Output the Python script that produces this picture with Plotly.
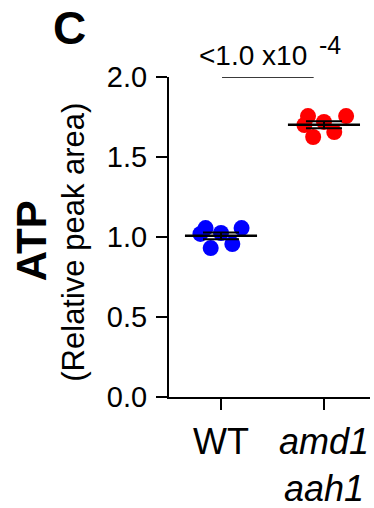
import numpy as np
import plotly.graph_objects as go

# ---- data ----
categories = ["WT", "amd1 aah1"]
tick_labels = ["WT", "<i>amd1</i><br><i>aah1</i>"]
wt_values = [1.019, 1.056, 0.931, 1.025, 0.956, 1.056]
mut_values = [1.700, 1.756, 1.625, 1.719, 1.656, 1.756]
wt_jitter = [-0.20, -0.15, -0.10, 0.0, 0.11, 0.20]
mut_jitter = [-0.19, -0.155, -0.105, 0.0, 0.10, 0.215]
y_ticks = [0.0, 0.5, 1.0, 1.5, 2.0]
p_text = "&lt;1.0 x10"
p_exp = "-4"

FONT = "Liberation Sans, Arial, sans-serif"
series = [(wt_values, wt_jitter, "#0000FF"), (mut_values, mut_jitter, "#FF0000")]

fig = go.Figure()
for i, (vals, jit, col) in enumerate(series):
    v = np.array(vals)
    xs = i + np.array(jit)
    fig.add_trace(go.Scatter(x=xs, y=v, mode="markers",
                             marker=dict(size=16, color=col, line=dict(width=0)),
                             showlegend=False, cliponaxis=False))
for i, (vals, jit, col) in enumerate(series):
    v = np.array(vals)
    m = v.mean()
    sem = v.std(ddof=1) / np.sqrt(len(v))
    fig.add_trace(go.Scatter(x=[i - 0.35, i + 0.35], y=[m, m], mode="lines",
                             line=dict(color="black", width=2.5), showlegend=False))
    fig.add_trace(go.Scatter(x=[i], y=[m], mode="markers",
                             marker=dict(size=1, color="rgba(0,0,0,0)"),
                             error_y=dict(type="data", array=[sem], visible=True,
                                          color="black", thickness=2, width=18),
                             showlegend=False))

# significance bracket
fig.add_shape(type="line", xref="x", yref="y", x0=0.01, x1=0.90, y0=2.0, y1=2.0,
              line=dict(color="#3a3a3a", width=2))
fig.add_annotation(x=0.855, y=1.066, xref="x", yref="paper", text=p_text,
                   showarrow=False, xanchor="right", yanchor="middle",
                   font=dict(family=FONT, size=28, color="black"))
fig.add_annotation(x=0.935, y=1.10, xref="x", yref="paper", text=p_exp,
                   showarrow=False, xanchor="left", yanchor="middle",
                   font=dict(family=FONT, size=25, color="black"))

# axis titles
fig.add_annotation(x=-0.6866, y=0.49, xref="paper", yref="paper", text="<b>ATP</b>",
                   textangle=-90, showarrow=False, xanchor="center", yanchor="middle",
                   font=dict(family=FONT, size=42, color="black"))
fig.add_annotation(x=-0.4731, y=0.485, xref="paper", yref="paper", text="(Relative peak area)",
                   textangle=-90, showarrow=False, xanchor="center", yanchor="middle",
                   font=dict(family=FONT, size=31, color="black"))
# panel letter
fig.add_annotation(x=-0.4975, y=1.152, xref="paper", yref="paper", text="<b>C</b>",
                   showarrow=False, xanchor="center", yanchor="middle",
                   font=dict(family=FONT, size=46, color="black"))

fig.update_xaxes(range=[-0.505, 1.447], tickmode="array", tickvals=[0, 1],
                 ticktext=tick_labels, ticks="outside", ticklen=11, tickwidth=2,
                 tickcolor="black", showline=True, linecolor="black", linewidth=2,
                 showgrid=False, zeroline=False, ticklabelstandoff=1, automargin=False,
                 tickfont=dict(family=FONT, size=36, color="black"))
fig.update_yaxes(range=[0, 2.0], tickmode="array", tickvals=y_ticks,
                 ticktext=[f"{t:.1f}" for t in y_ticks], ticks="outside", ticklen=11,
                 tickwidth=2, tickcolor="black", showline=True, linecolor="black",
                 linewidth=2, showgrid=False, zeroline=False, ticklabelstandoff=3,
                 automargin=False,
                 tickfont=dict(family=FONT, size=29, color="black"))

fig.update_layout(width=374, height=508, margin=dict(l=169, r=4, t=77, b=111),
                  paper_bgcolor="white", plot_bgcolor="white", showlegend=False)

fig.write_html("out.html")
